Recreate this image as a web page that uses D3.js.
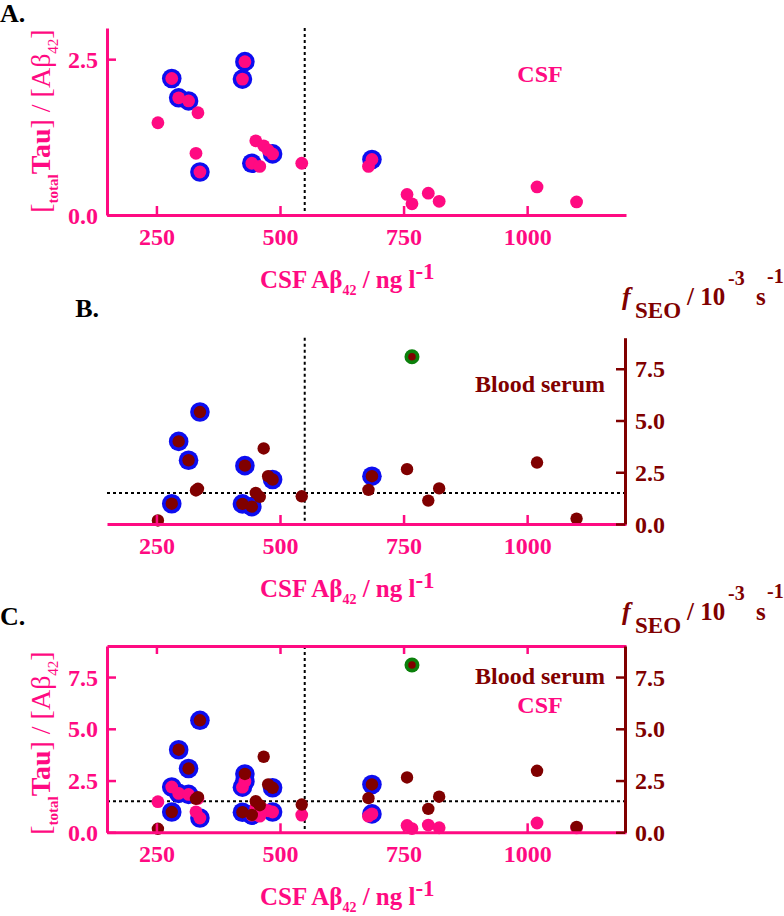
<!DOCTYPE html>
<html><head><meta charset="utf-8">
<script src="https://cdn.jsdelivr.net/npm/d3@7"></script>
<style>
body{margin:0;background:#fff}
svg{display:block;font-family:"Liberation Serif","Times New Roman",serif;}
</style>
</head><body>
<svg id="chart" width="784" height="916"></svg>
<script>
// ---- data ----
const csfAbeta42 = [253,281,295,315,330,334,338,424,429,443,451,459,467,476,485,544,679,686,757,767,800,822,1020,1100];
const tauRatio   = [1.48,2.19,1.88,1.83,0.99,1.64,0.69,2.18,2.46,0.83,1.19,0.78,1.11,1.04,0.98,0.83,0.78,0.89,0.33,0.18,0.35,0.22,0.45,0.21];
const fSEO       = [0.17,0.98,3.99,3.08,1.62,1.70,5.41,0.97,2.82,0.84,1.50,1.31,3.65,2.31,2.15,1.34,1.65,2.31,2.65,8.08,1.13,1.72,2.97,0.26];
const blueMarked = [0,1,1,1,0,0,1,1,1,1,0,0,0,0,1,0,0,1,0,0,0,0,0,0];
const greenMarked= [0,0,0,0,0,0,0,0,0,0,0,0,0,0,0,0,0,0,0,1,0,0,0,0];
const xMajorTicks = [250,500,750,1000];
const xMinorTicks = [200,300,350,400,450,550,600,650,700,800,850,900,950,1050,1100,1150,1200];
const abetaCutoff = 550;
const fseoCutoff = 1.5;

const PINK="#ff0a82", DARK="#800000", BLUE="#0d0df0", GREEN="#0b800b";
const svg = d3.select("#chart");
const x = d3.scaleLinear().domain([150,1200]).range([107,626]);
const fmt1 = d3.format(".1f");
const pts = csfAbeta42.map((v,i)=>({x:v, r:tauRatio[i], f:fSEO[i], blue:blueMarked[i], green:greenMarked[i]}));

const panels = [
  {lab:"A.", lx:0, ly:22, la:"start", y0:215, y1:28, ydom:[0,3], left:true, right:false, top:false, hline:false, pink:true, dark:false,
   yMaj:[0,2.5], tags:[{t:"CSF", c:PINK, y:82}], ylabY:121, rlabY:null},
  {lab:"B.", lx:99, ly:317, la:"end", y0:524, y1:337.7, ydom:[0,9], left:false, right:true, top:false, hline:true, pink:false, dark:true,
   yMaj:[0,2.5,5,7.5], tags:[{t:"Blood serum", c:DARK, y:392}], ylabY:null, rlabY:305},
  {lab:"C.", lx:0, ly:625, la:"start", y0:832.3, y1:646, ydom:[0,9], left:true, right:true, top:true, hline:true, pink:true, dark:true,
   yMaj:[0,2.5,5,7.5], tags:[{t:"Blood serum", c:DARK, y:684},{t:"CSF", c:PINK, y:713}], ylabY:743, rlabY:620}
];

function styleAxis(g, color){
  g.select(".domain").attr("stroke", color).attr("stroke-width", 3);
  g.selectAll(".tick line").attr("stroke", color).attr("stroke-width", 2.5);
  g.selectAll(".tick text").attr("fill", color).attr("font-size", 24).attr("font-weight","bold")
    .attr("font-family", "Liberation Serif, Times New Roman, serif");
}

panels.forEach(p=>{
  const y = d3.scaleLinear().domain(p.ydom).range([p.y0, p.y1]);
  const g = svg.append("g");

  // panel letter
  svg.append("text").attr("x", p.lx).attr("y", p.ly).attr("text-anchor", p.la)
    .attr("font-size", 26).attr("font-weight","bold").attr("fill","#000").text(p.lab);

  // dashed reference lines
  g.append("line").attr("x1", x(abetaCutoff)).attr("x2", x(abetaCutoff)).attr("y1", p.y1).attr("y2", p.y0)
    .attr("stroke","#000").attr("stroke-width",2).attr("stroke-dasharray","3,3");
  if(p.hline){
    g.append("line").attr("x1", x.range()[0]).attr("x2", x.range()[1]).attr("y1", y(fseoCutoff)).attr("y2", y(fseoCutoff))
      .attr("stroke","#000").attr("stroke-width",2).attr("stroke-dasharray","3,3");
  }

  // blue rings
  if(p.pink){
    g.selectAll(null).data(pts.filter(d=>d.blue)).join("circle")
      .attr("cx",d=>x(d.x)).attr("cy",d=>y(d.r)).attr("r",9.8).attr("fill",BLUE);
  }
  if(p.dark){
    g.selectAll(null).data(pts.filter(d=>d.blue)).join("circle")
      .attr("cx",d=>x(d.x)).attr("cy",d=>y(d.f)).attr("r",9.8).attr("fill",BLUE);
    g.selectAll(null).data(pts.filter(d=>d.green)).join("circle")
      .attr("cx",d=>x(d.x)).attr("cy",d=>y(d.f)).attr("r",7.5).attr("fill",GREEN);
  }
  if(p.pink){
    g.selectAll(null).data(pts).join("circle")
      .attr("cx",d=>x(d.x)).attr("cy",d=>y(d.r)).attr("r",6.4).attr("fill",PINK);
  }
  if(p.dark){
    g.selectAll(null).data(pts).join("circle")
      .attr("cx",d=>x(d.x)).attr("cy",d=>y(d.f)).attr("r",d=>d.green?3.8:6.2).attr("fill",DARK);
  }

  // bottom axis
  const gb = svg.append("g").attr("transform",`translate(0,${p.y0})`);
  gb.call(d3.axisBottom(x).tickValues(xMinorTicks).tickSize(-5).tickSizeOuter(0).tickFormat(""));
  gb.call(d3.axisBottom(x).tickValues(xMajorTicks).tickSize(-9).tickSizeOuter(0).tickFormat(d3.format("d")));
  styleAxis(gb, PINK);
  gb.selectAll(".tick text").attr("y",30).attr("dy",0);

  // top axis
  if(p.top){
    const gt = svg.append("g").attr("transform",`translate(0,${p.y1})`);
    gt.call(d3.axisTop(x).tickValues(xMinorTicks).tickSize(-5).tickSizeOuter(0).tickFormat(""));
    gt.call(d3.axisTop(x).tickValues(xMajorTicks).tickSize(-8).tickSizeOuter(0).tickFormat(""));
    styleAxis(gt, PINK);
  }

  const yMinor = d3.range(p.ydom[0], p.ydom[1]+0.001, 0.5).filter(v=>!p.yMaj.includes(v));
  // left axis
  if(p.left){
    const gl = svg.append("g").attr("transform",`translate(${x.range()[0]},0)`);
    gl.call(d3.axisLeft(y).tickValues(yMinor).tickSize(-5).tickSizeOuter(0).tickFormat(""));
    gl.call(d3.axisLeft(y).tickValues(p.yMaj).tickSize(-9).tickSizeOuter(0).tickPadding(9).tickFormat(fmt1));
    styleAxis(gl, PINK);
    gl.selectAll(".tick text").attr("dy","0.34em");

    const t = svg.append("text").attr("transform",`translate(50,${p.ylabY}) rotate(-90)`)
      .attr("text-anchor","middle").attr("fill",PINK).attr("font-size",28);
    t.append("tspan").text("[");
    t.append("tspan").attr("font-size",15).attr("font-weight","bold").attr("dy",8).text("total");
    t.append("tspan").attr("font-weight","bold").attr("dy",-8).text("Tau");
    t.append("tspan").text("] / [Aβ");
    t.append("tspan").attr("font-size",15).attr("dy",8).text("42");
    t.append("tspan").attr("dy",-8).text("]");
  }
  // right axis
  if(p.right){
    const gr = svg.append("g").attr("transform",`translate(${x.range()[1]-1},0)`);
    gr.call(d3.axisRight(y).tickValues(yMinor).tickSize(-5).tickSizeOuter(0).tickFormat(""));
    gr.call(d3.axisRight(y).tickValues(p.yMaj).tickSize(-9).tickSizeOuter(0).tickPadding(10).tickFormat(fmt1));
    styleAxis(gr, DARK);
    gr.selectAll(".tick text").attr("dy","0.34em");

    const b = p.rlabY;
    const t = svg.append("text").attr("fill",DARK).attr("font-weight","bold").attr("font-size",25);
    t.append("tspan").attr("x",622).attr("y",b).attr("font-style","italic").attr("font-size",26).text("f");
    t.append("tspan").attr("x",635).attr("y",b+13).attr("font-size",23).text("SEO");
    t.append("tspan").attr("x",687).attr("y",b).text("/ 10");
    t.append("tspan").attr("x",728).attr("y",b-20).attr("font-size",20).text("-3");
    t.append("tspan").attr("x",756).attr("y",b).text("s");
    t.append("tspan").attr("x",767).attr("y",b-22).attr("font-size",20).text("-1");
  }

  // x-axis title
  const xt = svg.append("text").attr("x",260).attr("y",p.y0+73).attr("fill",PINK)
    .attr("font-weight","bold").attr("font-size",25);
  xt.append("tspan").text("CSF Aβ");
  xt.append("tspan").attr("font-size",14).attr("dy",7).text("42");
  xt.append("tspan").attr("dy",-7).text(" / ng l");
  xt.append("tspan").attr("font-size",23).attr("dy",-9).text("-1");

  // series tags
  p.tags.forEach(tg=>{
    svg.append("text").attr("x",540).attr("y",tg.y).attr("text-anchor","middle")
      .attr("fill",tg.c).attr("font-weight","bold").attr("font-size",24).text(tg.t);
  });
});
</script>
</body></html>
